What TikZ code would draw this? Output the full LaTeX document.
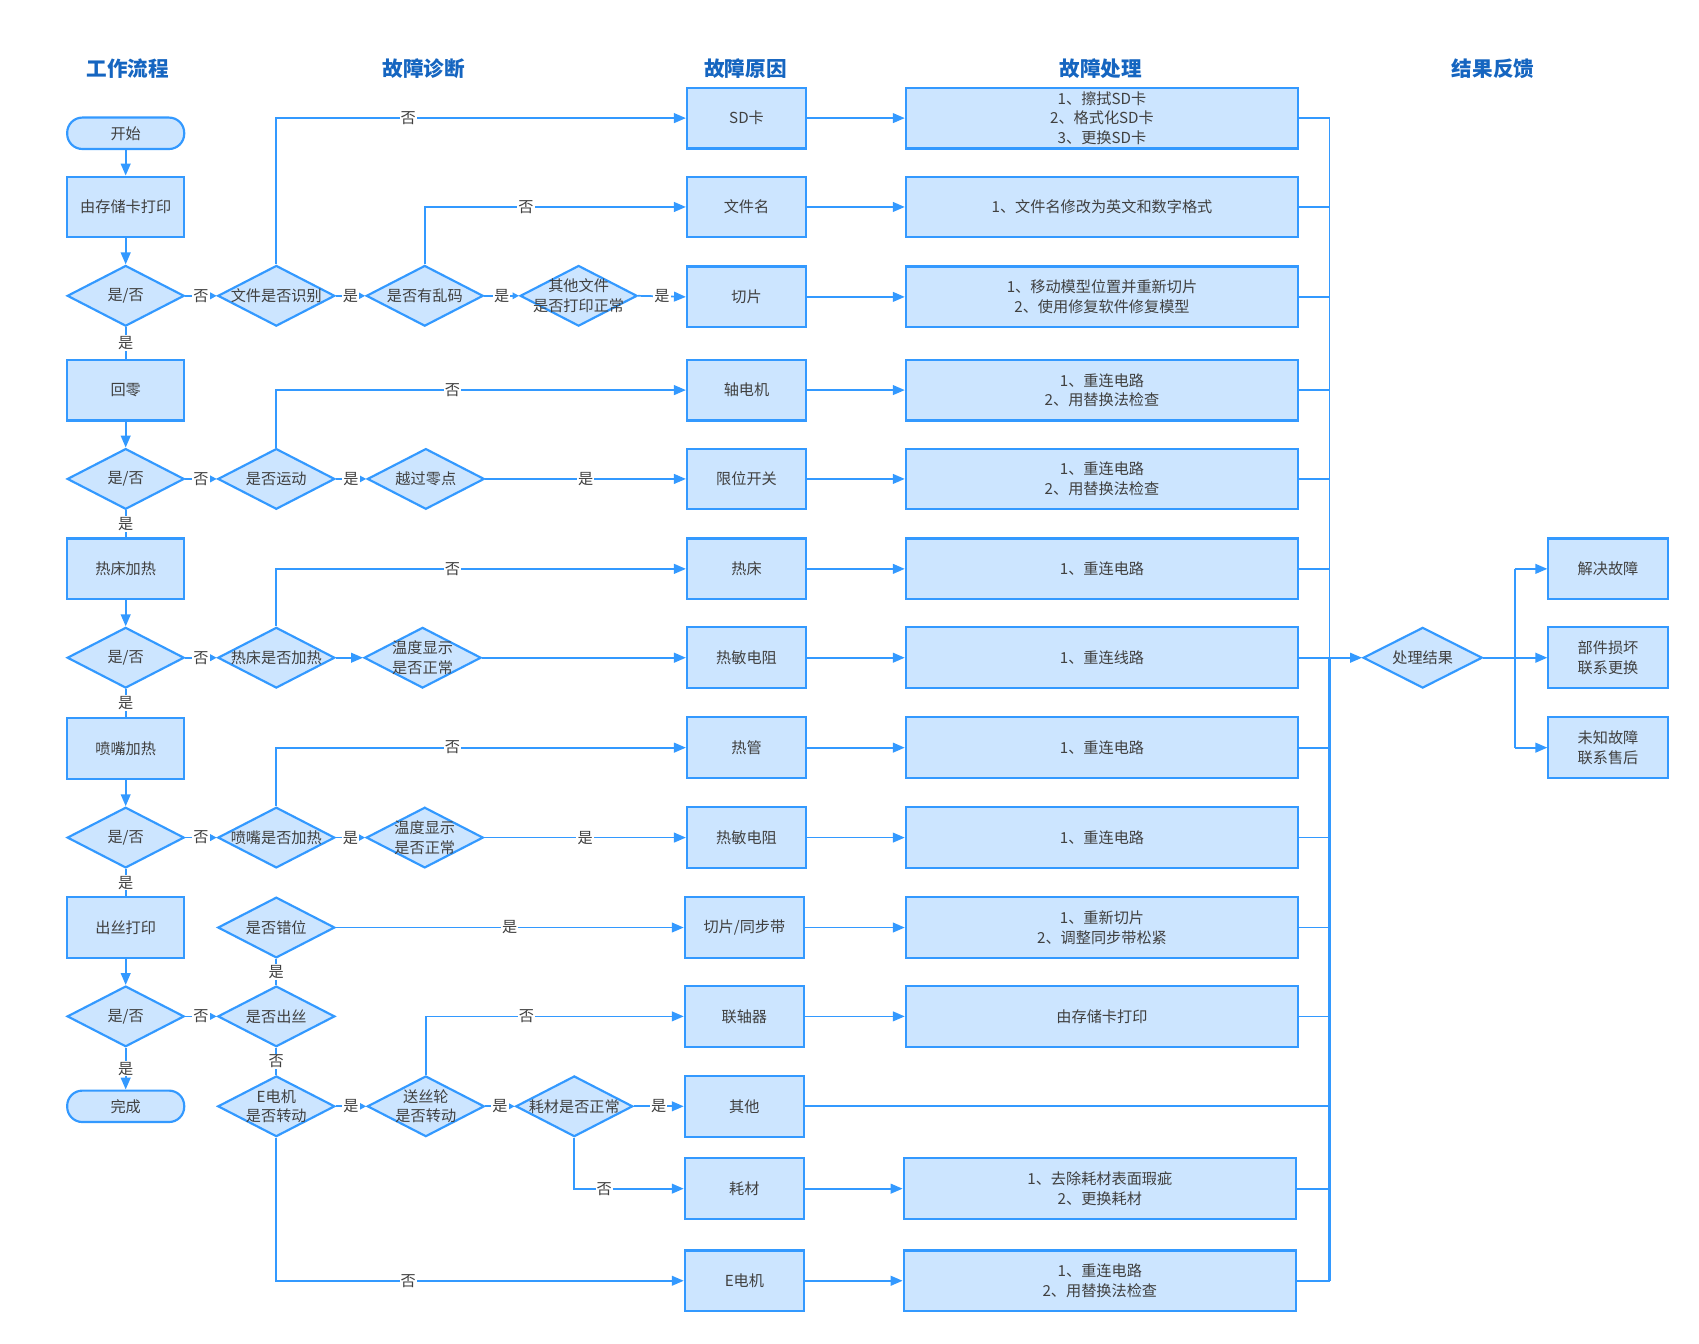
\documentclass[tikz,border=0pt]{standalone}
\usepackage{fontspec}
\setmainfont{Noto Sans CJK SC}
\usetikzlibrary{shapes.geometric,arrows.meta}
\definecolor{lblue}{RGB}{51,153,255}
\definecolor{fblue}{RGB}{204,229,255}
\definecolor{txt}{RGB}{64,64,64}
\definecolor{hdc}{RGB}{21,101,192}
\begin{document}
\begin{tikzpicture}[x=1pt,y=-1pt,
  every node/.style={font=\fontsize{14}{18}\selectfont, text=txt},
  box/.style={draw=lblue, fill=fblue, line width=2pt, minimum width=110pt, minimum height=56pt, inner sep=0pt, align=center},
  wbox/.style={box, minimum width=362pt},
  lbox/.style={box, minimum width=108pt},
  term/.style={box, minimum width=108pt, minimum height=29pt, rounded corners=14pt},
  dtext/.style={align=center, inner sep=0pt, text=txt},
  dl/.style={draw=lblue, fill=fblue, line width=2pt, diamond, minimum width=108pt, minimum height=56pt, inner sep=0pt, label={[dtext]center:#1}},
  hdr/.style={font=\fontsize{19}{22}\selectfont\bfseries, text=hdc},
  lbl/.style={fill=white, inner sep=1pt, font=\fontsize{14}{16}\selectfont},
  conn/.style={draw=lblue, line width=1.6pt},
  arr/.style={conn, -{Triangle[length=11pt,width=9pt]}},
  sarr/.style={conn, -{Triangle[length=6pt,width=6pt]}}
]
\useasboundingbox (0,0) rectangle (1568,1240);
% headers
\node[hdr] (h1) at (118,63) {工作流程};
\node[hdr] (h2) at (391,63) {故障诊断};
\node[hdr] (h3) at (688,63) {故障原因};
\node[hdr] (h4) at (1016,63) {故障处理};
\node[hdr] (h5) at (1378,63) {结果反馈};
% left column
\node[term] (start) at (116,123) {开始};
\node[lbox] (p1) at (116,191) {由存储卡打印};
\node[dl={是/否}] (d1) at (116,273) {};
\node[lbox] (p2) at (116,360) {回零};
\node[dl={是/否}] (d2) at (116,442) {};
\node[lbox] (p3) at (116,525) {热床加热};
\node[dl={是/否}] (d3) at (116,607) {};
\node[lbox] (p4) at (116,691) {喷嘴加热};
\node[dl={是/否}] (d4) at (116,773) {};
\node[lbox] (p5) at (116,856) {出丝打印};
\node[dl={是/否}] (d5) at (116,938) {};
\node[term] (fin) at (116,1021) {完成};
% diagnosis diamonds
\node[dl={文件是否识别}] (q1) at (255,273) {};
\node[dl={是否有乱码}] (q2) at (392,273) {};
\node[dl={其他文件\\是否打印正常}] (q3) at (534,273) {};
\node[dl={是否运动}] (q4) at (255,442) {};
\node[dl={越过零点}] (q5) at (393,442) {};
\node[dl={热床是否加热}] (q6) at (255,607) {};
\node[dl={温度显示\\是否正常}] (q7) at (390,607) {};
\node[dl={喷嘴是否加热}] (q8) at (255,773) {};
\node[dl={温度显示\\是否正常}] (q9) at (392,773) {};
\node[dl={是否错位}] (q10) at (255,856) {};
\node[dl={是否出丝}] (q11) at (255,938) {};
\node[dl={E电机\\是否转动}] (q12) at (255,1021) {};
\node[dl={送丝轮\\是否转动}] (q13) at (393,1021) {};
\node[dl={耗材是否正常}] (q14) at (530,1021) {};
% causes
\node[box] (c1) at (689,109) {SD卡};
\node[box] (c2) at (689,191) {文件名};
\node[box] (c3) at (689,274) {切片};
\node[box] (c4) at (689,360) {轴电机};
\node[box] (c5) at (689,442) {限位开关};
\node[box] (c6) at (689,525) {热床};
\node[box] (c7) at (689,607) {热敏电阻};
\node[box] (c8) at (689,690) {热管};
\node[box] (c9) at (689,773) {热敏电阻};
\node[box] (c10) at (687,856) {切片/同步带};
\node[box] (c11) at (687,938) {联轴器};
\node[box] (c12) at (687,1021) {其他};
\node[box] (c13) at (687,1097) {耗材};
\node[box] (c14) at (687,1182) {E电机};
% solutions
\node[wbox] (s1) at (1017,109) {1、擦拭SD卡\\2、格式化SD卡\\3、更换SD卡};
\node[wbox] (s2) at (1017,191) {1、文件名修改为英文和数字格式};
\node[wbox] (s3) at (1017,274) {1、移动模型位置并重新切片\\2、使用修复软件修复模型};
\node[wbox] (s4) at (1017,360) {1、重连电路\\2、用替换法检查};
\node[wbox] (s5) at (1017,442) {1、重连电路\\2、用替换法检查};
\node[wbox] (s6) at (1017,525) {1、重连电路};
\node[wbox] (s7) at (1017,607) {1、重连线路};
\node[wbox] (s8) at (1017,690) {1、重连电路};
\node[wbox] (s9) at (1017,773) {1、重连电路};
\node[wbox] (s10) at (1017,856) {1、重新切片\\2、调整同步带松紧};
\node[wbox] (s11) at (1017,938) {由存储卡打印};
\node[wbox] (s13) at (1015,1097) {1、去除耗材表面瑕疵\\2、更换耗材};
\node[wbox] (s14) at (1015,1182) {1、重连电路\\2、用替换法检查};
% result
\node[dl={处理结果}, minimum width=110pt] (res) at (1313,607) {};
\node[box] (r1) at (1484,525) {解决故障};
\node[box] (r2) at (1484,607) {部件损坏\\联系更换};
\node[box] (r3) at (1484,690) {未知故障\\联系售后};
\coordinate (bus) at (1227,109);
\coordinate (busm) at (1227,607);
\coordinate (busb) at (1227,1182);
\coordinate (br) at (1398,607);
% left column connectors
\draw[arr] (start.south) -- (p1.north);
\draw[arr] (p1.south) -- (d1.north);
\draw[conn] (d1.south) -- node[lbl]{是} (p2.north);
\draw[arr] (p2.south) -- (d2.north);
\draw[conn] (d2.south) -- node[lbl]{是} (p3.north);
\draw[arr] (p3.south) -- (d3.north);
\draw[conn] (d3.south) -- node[lbl]{是} (p4.north);
\draw[arr] (p4.south) -- (d4.north);
\draw[conn] (d4.south) -- node[lbl]{是} (p5.north);
\draw[arr] (p5.south) -- (d5.north);
\draw[arr] (d5.south) -- node[lbl]{是} (fin.north);
% row 1
\draw[sarr] (d1.east) -- node[lbl]{否} (q1.west);
\draw[sarr] (q1.east) -- node[lbl]{是} (q2.west);
\draw[sarr] (q2.east) -- node[lbl]{是} (q3.west);
\draw[arr] (q3.east) -- node[lbl]{是} (c3.west);
\draw[arr] (q1.north) |- node[lbl,pos=0.661]{否} (c1.west);
\draw[arr] (q2.north) |- node[lbl,pos=0.694]{否} (c2.west);
% row 2
\draw[sarr] (d2.east) -- node[lbl]{否} (q4.west);
\draw[sarr] (q4.east) -- node[lbl]{是} (q5.west);
\draw[arr] (q5.east) -- node[lbl]{是} (c5.west);
\draw[arr] (q4.north) |- node[lbl,pos=0.715]{否} (c4.west);
% row 3
\draw[sarr] (d3.east) -- node[lbl]{否} (q6.west);
\draw[arr] (q6.east) -- (q7.west);
\draw[arr] (q7.east) -- (c7.west);
\draw[arr] (q6.north) |- node[lbl,pos=0.715]{否} (c6.west);
% row 4
\draw[sarr] (d4.east) -- node[lbl]{否} (q8.west);
\draw[sarr] (q8.east) -- node[lbl]{是} (q9.west);
\draw[arr] (q9.east) -- node[lbl]{是} (c9.west);
\draw[arr] (q8.north) |- node[lbl,pos=0.715]{否} (c8.west);
% row 5
\draw[sarr] (d5.east) -- node[lbl]{否} (q11.west);
\draw[conn] (q11.north) -- node[lbl]{是} (q10.south);
\draw[arr] (q10.east) -- node[lbl]{是} (c10.west);
\draw[conn] (q11.south) -- node[lbl]{否} (q12.north);
\draw[sarr] (q12.east) -- node[lbl]{是} (q13.west);
\draw[sarr] (q13.east) -- node[lbl]{是} (q14.west);
\draw[arr] (q14.east) -- node[lbl]{是} (c12.west);
\draw[arr] (q13.north) |- node[lbl,pos=0.695]{否} (c11.west);
\draw[arr] (q12.south) |- node[lbl,pos=0.662]{否} (c14.west);
\draw[arr] (q14.south) |- node[lbl,pos=0.637]{否} (c13.west);
% causes to solutions
\foreach \i in {1,...,11,13,14} {
  \draw[arr] (c\i.east) -- (s\i.west);
  \draw[conn] (s\i.east) -- (s\i.east -| bus);
}
\draw[conn] (c12.east) -- (c12.east -| bus);
\draw[conn] (bus) -- (busm);
\draw[conn, line width=2.3pt] (busm) -- (busb);
\draw[arr] (busm) -- (res.west);
% results
\draw[conn] (res.east) -- (br);
\draw[conn] (br |- r1.west) -- (br |- r3.west);
\draw[arr] (br |- r1.west) -- (r1.west);
\draw[arr] (br) -- (r2.west);
\draw[arr] (br |- r3.west) -- (r3.west);
\end{tikzpicture}
\end{document}
